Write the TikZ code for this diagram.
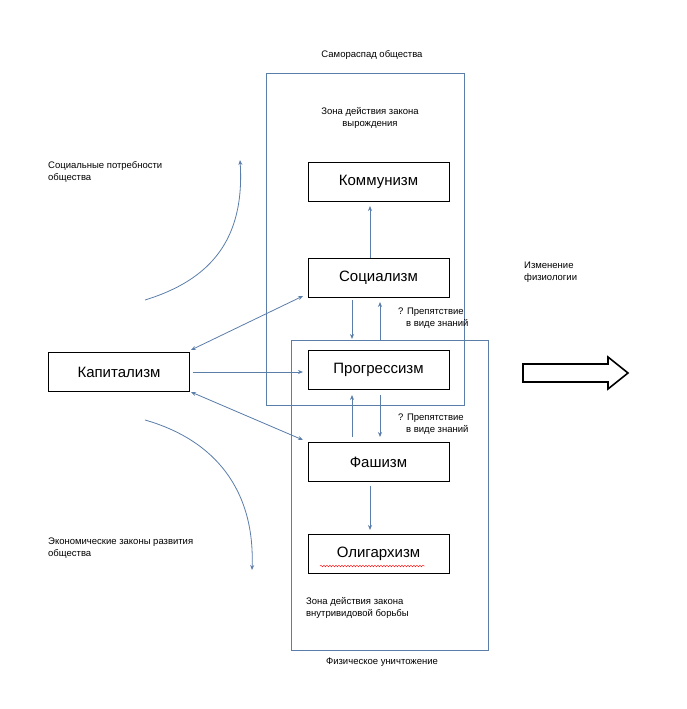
\documentclass[tikz,border=0pt]{standalone}
\usepackage{fontspec}
\setmainfont{Liberation Sans}
\usetikzlibrary{arrows.meta,decorations.pathmorphing}
\definecolor{sb}{RGB}{90,125,170}
\begin{document}
\begin{tikzpicture}[x=1pt,y=-1pt,
  ln/.style={draw=sb,line width=0.8pt},
  ar/.style={ln,-{Stealth[length=5pt,width=4pt]}},
  box/.style={draw=black,line width=0.8pt,minimum width=141pt,minimum height=39pt,font=\fontsize{15}{17}\selectfont,inner sep=0pt},
  lab/.style={font=\fontsize{9.5}{11.5}\selectfont,align=left,inner sep=0pt}]
\useasboundingbox (0,0) rectangle (686,709);
\draw[ln] (266,73) rectangle (464,405);
\draw[ln] (291,340) rectangle (488,650);
\node[box,fill=white] (k) at (378.5,181.5) {Коммунизм};
\node[box,fill=white] (s) at (378.5,277.5) {Социализм};
\node[box,fill=white] (p) at (378.5,370) {Прогрессизм};
\node[box,fill=white] (f) at (378.5,462) {Фашизм};
\node[box,fill=white] (o) at (378.5,553.5) {Олигархизм};
\node[box] (c) at (119,372) {Капитализм};
\draw[red,decorate,decoration={snake,amplitude=0.8pt,segment length=3pt},line width=0.4pt] (320,566) -- (425,566);
\node[lab,align=center] (t1) at (372,55) {Самораспад общества};
\node[lab,align=center] (t2) at (370,118) {Зона действия закона\\вырождения};
\node[lab,anchor=west] (t3) at (48,172) {Социальные потребности\\общества};
\node[lab,anchor=west] (t4) at (524,272) {Изменение\\физиологии};
\node[lab,anchor=west] (t5) at (398,318) {? Препятствие\\\hspace{8pt}в виде знаний};
\node[lab,anchor=west] (t6) at (398,424) {? Препятствие\\\hspace{8pt}в виде знаний};
\node[lab,anchor=west] (t7) at (48,548) {Экономические законы развития\\общества};
\node[lab,anchor=west] (t8) at (306,608) {Зона действия закона\\внутривидовой борьбы};
\node[lab,align=center] (t9) at (382,662) {Физическое уничтожение};
\draw[ar] (370,258) -- (370,206);
\draw[ar] (352,300) -- (352,339);
\draw[ar] (380,340) -- (380,302);
\draw[ar] (352,437) -- (352,395);
\draw[ar] (380,395) -- (380,437);
\draw[ar] (370,486) -- (370,530);
\draw[ar,{Stealth[length=5pt,width=4pt]}-{Stealth[length=5pt,width=4pt]}] (191,350) -- (303,296);
\draw[ar] (193,372) -- (303,372);
\draw[ar,{Stealth[length=5pt,width=4pt]}-{Stealth[length=5pt,width=4pt]}] (191,392) -- (303,440);
\draw[ar] (145,300) .. controls (210,280) and (245,240) .. (240,160);
\draw[ar] (145,420) .. controls (215,440) and (255,490) .. (252,570);
\draw[line width=1.6pt] (523,364) -- (608,364) -- (608,357) -- (628,373) -- (608,389) -- (608,382) -- (523,382) -- cycle;
\end{tikzpicture}
\end{document}
